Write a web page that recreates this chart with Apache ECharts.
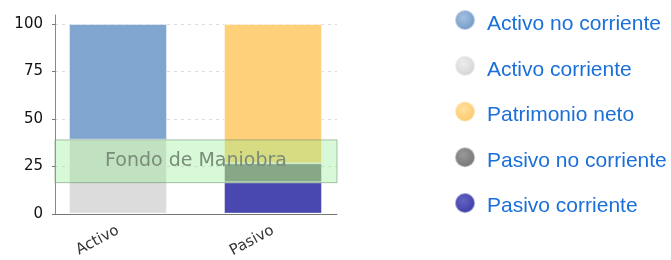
<!DOCTYPE html>
<html>
<head>
<meta charset="utf-8">
<script src="https://cdn.jsdelivr.net/npm/echarts@6/dist/echarts.min.js"></script>
<style>
html, body { margin: 0; padding: 0; background: #fff; }
#chart { width: 671px; height: 260px; }
</style>
</head>
<body>
<div id="chart"></div>
<script>
// datos (porcentaje sobre el total)
var categories = ['Activo', 'Pasivo'];
var activoNoCorriente = [61, '-'];
var activoCorriente = [39, '-'];
var patrimonioNeto = ['-', 73.5];
var pasivoNoCorriente = ['-', 10];
var pasivoCorriente = ['-', 16.5];
var yTicks = [0, 25, 50, 75, 100];

var legendNames = ['Activo no corriente', 'Activo corriente', 'Patrimonio neto', 'Pasivo no corriente', 'Pasivo corriente'];
var colors = {
    'Activo no corriente': ['#80a6cf', '#a4c0e0', '#6a90bc'],
    'Activo corriente': ['#dcdcdc', '#ececec', '#cacaca'],
    'Patrimonio neto': ['#ffd07a', '#ffe0a0', '#f4c060'],
    'Pasivo no corriente': ['#808080', '#989898', '#6c6c6c'],
    'Pasivo corriente': ['#4848b0', '#6464c4', '#30309c']
};

// fondo de maniobra = activo corriente - pasivo corriente
var fondoManiobra = [pasivoCorriente[1], activoCorriente[0]];

function sphere(name) {
    var c = colors[name];
    return new echarts.graphic.RadialGradient(0.42, 0.38, 0.7, [
        { offset: 0, color: c[1] },
        { offset: 0.6, color: c[0] },
        { offset: 1, color: c[2] }
    ]);
}

function barSeries(name, data) {
    return {
        name: name,
        type: 'bar',
        stack: 'total',
        xAxisIndex: 1,
        yAxisIndex: 1,
        barWidth: 98,
        data: data,
        itemStyle: {
            color: colors[name][0],
            borderColor: 'rgba(255,255,255,0.45)',
            borderWidth: 1
        }
    };
}

var legendBase = {
    orient: 'vertical',
    left: 454,
    padding: 0,
    itemWidth: 20,
    itemHeight: 20,
    icon: 'circle',
    selectedMode: false
};

var myChart = echarts.init(document.getElementById('chart'));
myChart.setOption({
    animation: false,
    grid: [
        { left: 55, top: 24, width: 282, height: 190 },
        { left: 40.5, top: 24, width: 310, height: 190 },
        { left: 55, top: 15, width: 282, height: 199 }
    ],
    legend: [
        // circulos
        Object.assign({}, legendBase, {
            top: 9,
            itemGap: 23.75,
            formatter: function () { return ''; },
            textStyle: { fontSize: 21, lineHeight: 20 },
            data: legendNames.map(function (n) {
                return { name: n, itemStyle: { color: sphere(n) } };
            })
        }),
        // textos
        Object.assign({}, legendBase, {
            top: 14,
            itemGap: 24.5,
            data: legendNames.map(function (n) {
                return { name: n, itemStyle: { color: 'rgba(0,0,0,0)', borderWidth: 0 } };
            }),
            textStyle: {
                color: '#1b6fd8',
                fontSize: 21,
                lineHeight: 20,
                fontFamily: 'Liberation Sans, Arial, sans-serif',
                padding: [0, 0, 0, 8]
            }
        })
    ],
    xAxis: [
        {
            type: 'category',
            gridIndex: 0,
            data: categories,
            axisLine: { lineStyle: { color: '#777', width: 1 } },
            axisTick: { show: false },
            axisLabel: { show: false },
            splitLine: { show: false }
        },
        {
            type: 'category',
            gridIndex: 1,
            data: categories,
            axisLine: { show: false },
            axisTick: { show: false },
            axisLabel: {
                rotate: 28,
                margin: 16,
                color: '#333',
                fontSize: 15,
                fontFamily: 'DejaVu Sans, sans-serif'
            }
        },
        { type: 'category', gridIndex: 2, data: categories, show: false }
    ],
    yAxis: [
        {
            type: 'value',
            gridIndex: 0,
            min: yTicks[0],
            max: yTicks[yTicks.length - 1],
            interval: yTicks[1] - yTicks[0],
            axisLine: { show: false },
            axisTick: { show: true, length: 3, lineStyle: { color: '#777' } },
            axisLabel: {
                margin: 12,
                color: '#111',
                fontSize: 15,
                fontFamily: 'DejaVu Sans, sans-serif'
            },
            splitLine: { lineStyle: { color: '#ddd', type: [3, 4] } }
        },
        {
            type: 'value',
            gridIndex: 1,
            min: yTicks[0],
            max: yTicks[yTicks.length - 1],
            show: false
        },
        {
            type: 'value',
            gridIndex: 2,
            axisLine: { show: true, lineStyle: { color: '#888', width: 1 } },
            axisTick: { show: false },
            axisLabel: { show: false },
            splitLine: { show: false }
        }
    ],
    series: [
        barSeries('Activo corriente', activoCorriente),
        barSeries('Activo no corriente', activoNoCorriente),
        barSeries('Pasivo corriente', pasivoCorriente),
        barSeries('Pasivo no corriente', pasivoNoCorriente),
        barSeries('Patrimonio neto', patrimonioNeto),
        {
            type: 'line',
            xAxisIndex: 0,
            yAxisIndex: 0,
            data: [],
            z: 10,
            markArea: {
                silent: true,
                z: 10,
                itemStyle: {
                    color: 'rgba(144,238,144,0.36)',
                    borderColor: 'rgba(110,140,110,0.55)',
                    borderWidth: 1
                },
                label: {
                    show: true,
                    position: 'inside',
                    formatter: 'Fondo de Maniobra',
                    color: '#7a8c7a',
                    fontSize: 19,
                    fontFamily: 'DejaVu Sans, sans-serif'
                },
                data: [[{ yAxis: fondoManiobra[0] }, { yAxis: fondoManiobra[1] }]]
            }
        }
    ]
});
</script>
</body>
</html>
